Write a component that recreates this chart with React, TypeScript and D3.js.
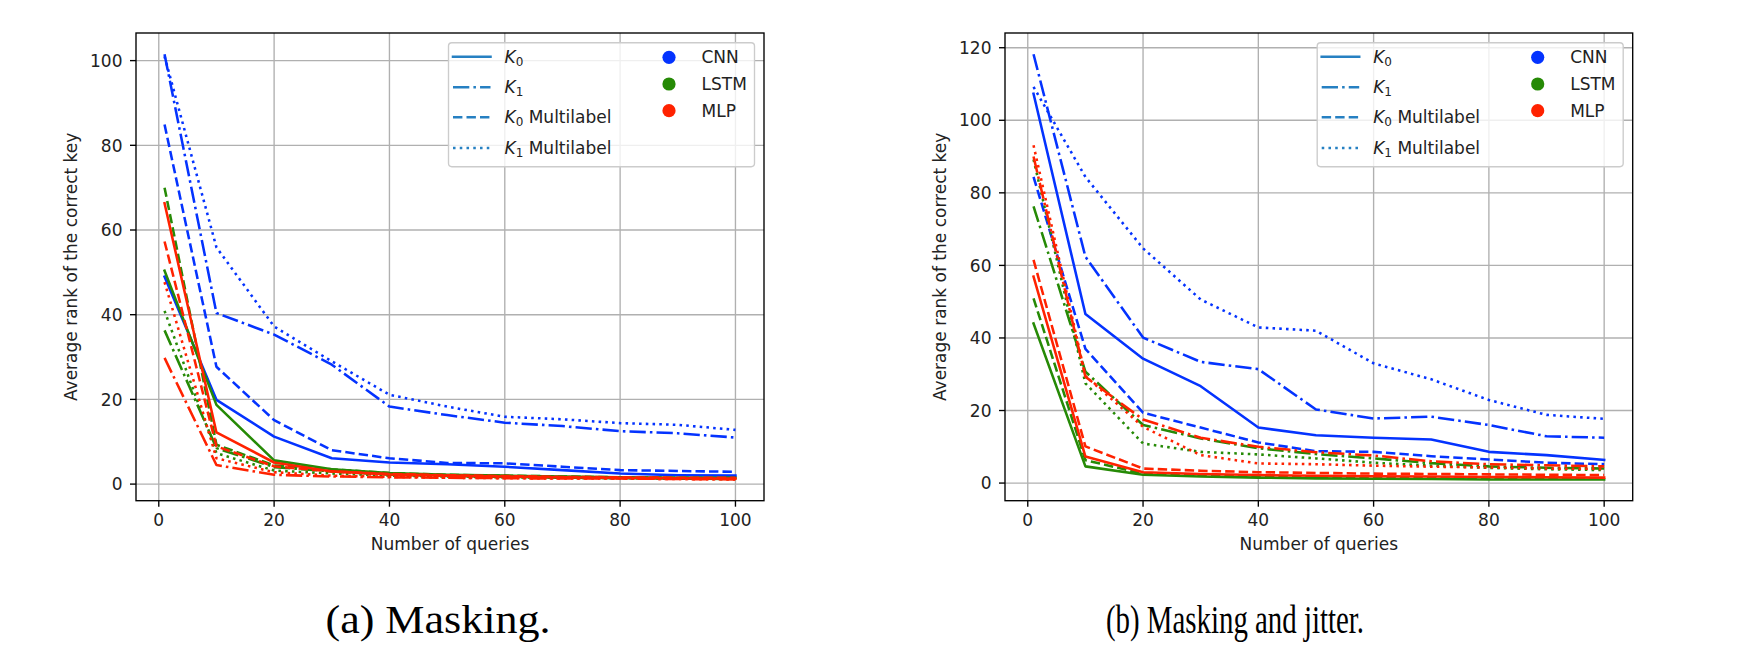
import * as d3 from "d3";
import { useEffect, useRef } from "react";

const WIDTH = 1760;
const HEIGHT = 672;

// x values (number of queries)
const QUERIES = [1, 10, 20, 30, 40, 50, 60, 70, 80, 90, 100];

// (a) Masking
const MASK_CNN_K0 = [49, 19.9, 11.2, 6.1, 5.1, 4.7, 4.1, 3.3, 2.5, 2.1, 2.0];
const MASK_CNN_K1 = [101.5, 40.4, 35.3, 28.2, 18.3, 16.3, 14.5, 13.7, 12.5, 12.0, 11.0];
const MASK_CNN_K0_ML = [84.9, 27.7, 15.1, 8.0, 6.1, 5.0, 4.9, 4.1, 3.3, 3.1, 2.9];
const MASK_CNN_K1_ML = [101, 55.9, 37.2, 29.0, 21.1, 18.3, 15.9, 15.3, 14.4, 14.0, 12.8];
const MASK_LSTM_K0 = [50.4, 18.7, 5.6, 3.5, 2.6, 2.2, 2.0, 1.8, 1.6, 1.5, 1.5];
const MASK_LSTM_K1 = [36.3, 8.5, 4.0, 3.0, 2.2, 1.9, 1.7, 1.5, 1.4, 1.3, 1.2];
const MASK_LSTM_K0_ML = [70.0, 9.3, 4.4, 3.5, 2.6, 2.2, 2.0, 1.8, 1.6, 1.5, 1.4];
const MASK_LSTM_K1_ML = [40.9, 7.3, 3.2, 2.5, 2.0, 1.8, 1.6, 1.5, 1.4, 1.3, 1.3];
const MASK_MLP_K0 = [66.3, 12.2, 5.1, 3.0, 2.3, 2.0, 1.8, 1.6, 1.5, 1.4, 1.3];
const MASK_MLP_K1 = [29.8, 4.5, 2.2, 1.8, 1.6, 1.5, 1.4, 1.3, 1.3, 1.2, 1.1];
const MASK_MLP_K0_ML = [57.3, 8.9, 4.2, 3.0, 2.4, 2.1, 1.9, 1.7, 1.6, 1.5, 1.5];
const MASK_MLP_K1_ML = [47.7, 6.1, 2.8, 2.0, 1.7, 1.5, 1.4, 1.3, 1.3, 1.2, 1.1];

// (b) Masking and jitter
const JIT_CNN_K0 = [107.3, 46.6, 34.3, 26.7, 15.3, 13.2, 12.5, 12.0, 8.6, 7.7, 6.4];
const JIT_CNN_K1 = [118.2, 62.4, 40.1, 33.4, 31.4, 20.3, 17.8, 18.3, 16.0, 12.9, 12.5];
const JIT_CNN_K0_ML = [84.4, 37.0, 19.4, 15.3, 11.2, 8.8, 8.6, 7.4, 6.5, 5.6, 5.2];
const JIT_CNN_K1_ML = [109.2, 84.4, 64.7, 50.6, 42.9, 42.0, 33.0, 28.6, 22.9, 18.8, 17.7];
const JIT_LSTM_K0 = [44.0, 4.6, 2.3, 1.8, 1.5, 1.3, 1.2, 1.1, 1.0, 1.0, 1.0];
const JIT_LSTM_K1 = [76.3, 30.7, 16.0, 12.3, 9.6, 8.0, 6.8, 5.5, 4.6, 4.2, 4.0];
const JIT_LSTM_K0_ML = [50.9, 6.3, 2.6, 2.1, 1.8, 1.6, 1.5, 1.4, 1.3, 1.3, 1.2];
const JIT_LSTM_K1_ML = [89.2, 27.5, 10.9, 8.6, 7.9, 6.8, 5.6, 4.8, 4.2, 3.8, 3.6];
const JIT_MLP_K0 = [56.9, 7.3, 3.0, 2.5, 2.2, 2.0, 1.9, 1.8, 1.7, 1.6, 1.5];
const JIT_MLP_K1 = [90.0, 29.3, 17.5, 12.5, 10.0, 8.5, 7.6, 6.0, 5.2, 4.9, 4.6];
const JIT_MLP_K0_ML = [61.5, 10.1, 4.0, 3.4, 3.0, 2.8, 2.6, 2.5, 2.4, 2.3, 2.2];
const JIT_MLP_K1_ML = [93.1, 29.5, 15.5, 7.7, 5.4, 5.2, 4.8, 4.5, 4.3, 4.0, 3.9];

const X_TICKS = [0, 20, 40, 60, 80, 100];
const Y_TICKS_A = [0, 20, 40, 60, 80, 100];
const Y_TICKS_B = [0, 20, 40, 60, 80, 100, 120];

type Model = "CNN" | "LSTM" | "MLP";
type Style = "k0" | "k1" | "k0ml" | "k1ml";

const MODELS: Model[] = ["CNN", "LSTM", "MLP"];
const STYLES: Style[] = ["k0", "k1", "k0ml", "k1ml"];

const MODEL_COLORS: Record<Model, string> = {
  CNN: "#0433ff",
  LSTM: "#268a06",
  MLP: "#ff2200",
};
const LEGEND_LINE_COLOR = "#2680c2";

const DASHES: Record<Style, string | null> = {
  k0: null,
  k1: "16.3,4.1,2.55,4.1",
  k0ml: "9.4,4.1",
  k1ml: "2.55,4.2",
};

const STYLE_LABELS: Record<Style, { sub: string; rest: string }> = {
  k0: { sub: "0", rest: "" },
  k1: { sub: "1", rest: "" },
  k0ml: { sub: "0", rest: " Multilabel" },
  k1ml: { sub: "1", rest: " Multilabel" },
};

interface Series {
  model: Model;
  style: Style;
  values: number[];
}

interface Panel {
  id: string;
  left: number;
  right: number;
  top: number;
  bottom: number;
  yTicks: number[];
  series: Series[];
  caption: string;
  captionX: number;
  captionWidth: number;
}

const mk = (model: Model, style: Style, values: number[]): Series => ({ model, style, values });

const PANELS: Panel[] = [
  {
    id: "a",
    left: 136,
    right: 764,
    top: 33,
    bottom: 500.7,
    yTicks: Y_TICKS_A,
    series: [
      mk("CNN", "k0", MASK_CNN_K0),
      mk("CNN", "k1", MASK_CNN_K1),
      mk("CNN", "k0ml", MASK_CNN_K0_ML),
      mk("CNN", "k1ml", MASK_CNN_K1_ML),
      mk("LSTM", "k0", MASK_LSTM_K0),
      mk("LSTM", "k1", MASK_LSTM_K1),
      mk("LSTM", "k0ml", MASK_LSTM_K0_ML),
      mk("LSTM", "k1ml", MASK_LSTM_K1_ML),
      mk("MLP", "k0", MASK_MLP_K0),
      mk("MLP", "k1", MASK_MLP_K1),
      mk("MLP", "k0ml", MASK_MLP_K0_ML),
      mk("MLP", "k1ml", MASK_MLP_K1_ML),
    ],
    caption: "(a) Masking.",
    captionX: 438,
    captionWidth: 225,
  },
  {
    id: "b",
    left: 1005,
    right: 1632.7,
    top: 33,
    bottom: 500.7,
    yTicks: Y_TICKS_B,
    series: [
      mk("CNN", "k0", JIT_CNN_K0),
      mk("CNN", "k1", JIT_CNN_K1),
      mk("CNN", "k0ml", JIT_CNN_K0_ML),
      mk("CNN", "k1ml", JIT_CNN_K1_ML),
      mk("LSTM", "k0", JIT_LSTM_K0),
      mk("LSTM", "k1", JIT_LSTM_K1),
      mk("LSTM", "k0ml", JIT_LSTM_K0_ML),
      mk("LSTM", "k1ml", JIT_LSTM_K1_ML),
      mk("MLP", "k0", JIT_MLP_K0),
      mk("MLP", "k1", JIT_MLP_K1),
      mk("MLP", "k0ml", JIT_MLP_K0_ML),
      mk("MLP", "k1ml", JIT_MLP_K1_ML),
    ],
    caption: "(b) Masking and jitter.",
    captionX: 1235,
    captionWidth: 258,
  },
];

const FONT = "'DejaVu Sans', sans-serif";
const LW = 2.55;
const THIN = 1.36;

function drawPanel(svg: d3.Selection<SVGSVGElement, unknown, null, undefined>, p: Panel) {
  // matplotlib-like 5% margins
  const [xMin, xMax] = d3.extent(QUERIES) as [number, number];
  const xPad = (xMax - xMin) * 0.05;
  const x = d3.scaleLinear().domain([xMin - xPad, xMax + xPad]).range([p.left, p.right]);

  const [yMin, yMax] = d3.extent(p.series.flatMap((s) => s.values)) as [number, number];
  const yPad = (yMax - yMin) * 0.05;
  const y = d3.scaleLinear().domain([yMin - yPad, yMax + yPad]).range([p.bottom, p.top]);

  const g = svg.append("g");

  // Grid
  g.selectAll(null)
    .data(X_TICKS)
    .join("line")
    .attr("x1", (d) => x(d))
    .attr("x2", (d) => x(d))
    .attr("y1", p.top)
    .attr("y2", p.bottom)
    .attr("stroke", "#b0b0b0")
    .attr("stroke-width", THIN);
  g.selectAll(null)
    .data(p.yTicks)
    .join("line")
    .attr("x1", p.left)
    .attr("x2", p.right)
    .attr("y1", (d) => y(d))
    .attr("y2", (d) => y(d))
    .attr("stroke", "#b0b0b0")
    .attr("stroke-width", THIN);

  // Clip
  svg
    .append("clipPath")
    .attr("id", `clip-${p.id}`)
    .append("rect")
    .attr("x", p.left)
    .attr("y", p.top)
    .attr("width", p.right - p.left)
    .attr("height", p.bottom - p.top);

  const line = d3
    .line<number>()
    .x((_, i) => x(QUERIES[i]))
    .y((d) => y(d));

  const lines = g.append("g").attr("clip-path", `url(#clip-${p.id})`);
  for (const s of p.series) {
    const dash = DASHES[s.style];
    lines
      .append("path")
      .datum(s.values)
      .attr("d", line)
      .attr("fill", "none")
      .attr("stroke", MODEL_COLORS[s.model])
      .attr("stroke-width", LW)
      .attr("stroke-linejoin", "round")
      .attr("stroke-linecap", dash ? "butt" : "square")
      .attr("stroke-dasharray", dash);
  }

  // Spines
  g.append("rect")
    .attr("x", p.left)
    .attr("y", p.top)
    .attr("width", p.right - p.left)
    .attr("height", p.bottom - p.top)
    .attr("fill", "none")
    .attr("stroke", "#000")
    .attr("stroke-width", THIN);

  // Ticks + labels
  g.selectAll(null)
    .data(X_TICKS)
    .join("line")
    .attr("x1", (d) => x(d))
    .attr("x2", (d) => x(d))
    .attr("y1", p.bottom)
    .attr("y2", p.bottom + 6)
    .attr("stroke", "#000")
    .attr("stroke-width", THIN);
  g.selectAll(null)
    .data(X_TICKS)
    .join("text")
    .attr("x", (d) => x(d))
    .attr("y", p.bottom + 25.5)
    .attr("text-anchor", "middle")
    .style("font-family", FONT)
    .style("font-size", "17px")
    .style("fill", "#222")
    .text((d) => d);

  g.selectAll(null)
    .data(p.yTicks)
    .join("line")
    .attr("x1", p.left - 6)
    .attr("x2", p.left)
    .attr("y1", (d) => y(d))
    .attr("y2", (d) => y(d))
    .attr("stroke", "#000")
    .attr("stroke-width", THIN);
  g.selectAll(null)
    .data(p.yTicks)
    .join("text")
    .attr("x", p.left - 13.5)
    .attr("y", (d) => y(d) + 6.2)
    .attr("text-anchor", "end")
    .style("font-family", FONT)
    .style("font-size", "17px")
    .style("fill", "#222")
    .text((d) => d);

  // Axis labels
  g.append("text")
    .attr("x", (p.left + p.right) / 2)
    .attr("y", 550)
    .attr("text-anchor", "middle")
    .style("font-family", FONT)
    .style("font-size", "17px")
    .style("fill", "#222")
    .text("Number of queries");
  g.append("text")
    .attr("transform", `translate(${p.left - 59},${(p.top + p.bottom) / 2}) rotate(-90)`)
    .attr("text-anchor", "middle")
    .style("font-family", FONT)
    .style("font-size", "17px")
    .style("fill", "#222")
    .text("Average rank of the correct key");

  // Legend
  const bw = 306;
  const bh = 124;
  const bx = p.right - 9.5 - bw;
  const by = 42.7;
  const leg = g.append("g").attr("transform", `translate(${bx},${by})`);
  leg
    .append("rect")
    .attr("width", bw)
    .attr("height", bh)
    .attr("rx", 3.4)
    .attr("fill", "#fff")
    .attr("fill-opacity", 0.8)
    .attr("stroke", "#cccccc")
    .attr("stroke-width", THIN);

  const rowY = [14, 44.6, 74.6, 105.3];
  STYLES.forEach((st, i) => {
    const dash = DASHES[st];
    leg
      .append("line")
      .attr("x1", 4.5)
      .attr("x2", 42)
      .attr("y1", rowY[i])
      .attr("y2", rowY[i])
      .attr("stroke", LEGEND_LINE_COLOR)
      .attr("stroke-width", LW)
      .attr("stroke-linecap", dash ? "butt" : "square")
      .attr("stroke-dasharray", dash);
    const t = leg
      .append("text")
      .attr("x", 56)
      .attr("y", rowY[i] + 6.2)
      .style("font-family", FONT)
      .style("font-size", "17px")
      .style("fill", "#222");
    t.append("tspan").style("font-style", "italic").text("K");
    t.append("tspan").attr("dy", 3).style("font-size", "12px").text(STYLE_LABELS[st].sub);
    if (STYLE_LABELS[st].rest) {
      t.append("tspan").attr("dy", -3).text(STYLE_LABELS[st].rest);
    }
  });

  const dotY = [14.6, 41.3, 68];
  MODELS.forEach((m, i) => {
    leg
      .append("circle")
      .attr("cx", 220.5)
      .attr("cy", dotY[i])
      .attr("r", 6.6)
      .attr("fill", MODEL_COLORS[m]);
    leg
      .append("text")
      .attr("x", 253)
      .attr("y", dotY[i] + 6.2)
      .style("font-family", FONT)
      .style("font-size", "17px")
      .style("fill", "#222")
      .text(m);
  });

  // Caption
  svg
    .append("text")
    .attr("x", p.captionX - p.captionWidth / 2)
    .attr("y", 633)
    .attr("textLength", p.captionWidth)
    .attr("lengthAdjust", "spacingAndGlyphs")
    .style("font-family", "'Liberation Serif', 'DejaVu Serif', serif")
    .style("font-size", "41px")
    .style("fill", "#000")
    .text(p.caption);
}

export default function App() {
  const svgRef = useRef<SVGSVGElement>(null);

  useEffect(() => {
    if (!svgRef.current) return;
    const svg = d3.select(svgRef.current);
    svg.selectAll("*").remove();
    svg.append("rect").attr("width", WIDTH).attr("height", HEIGHT).attr("fill", "#fff");
    for (const p of PANELS) drawPanel(svg, p);
  }, []);

  return (
    <div style={{ position: "absolute", left: 0, top: 0 }}>
      <svg ref={svgRef} width={WIDTH} height={HEIGHT} style={{ display: "block" }} />
    </div>
  );
}
